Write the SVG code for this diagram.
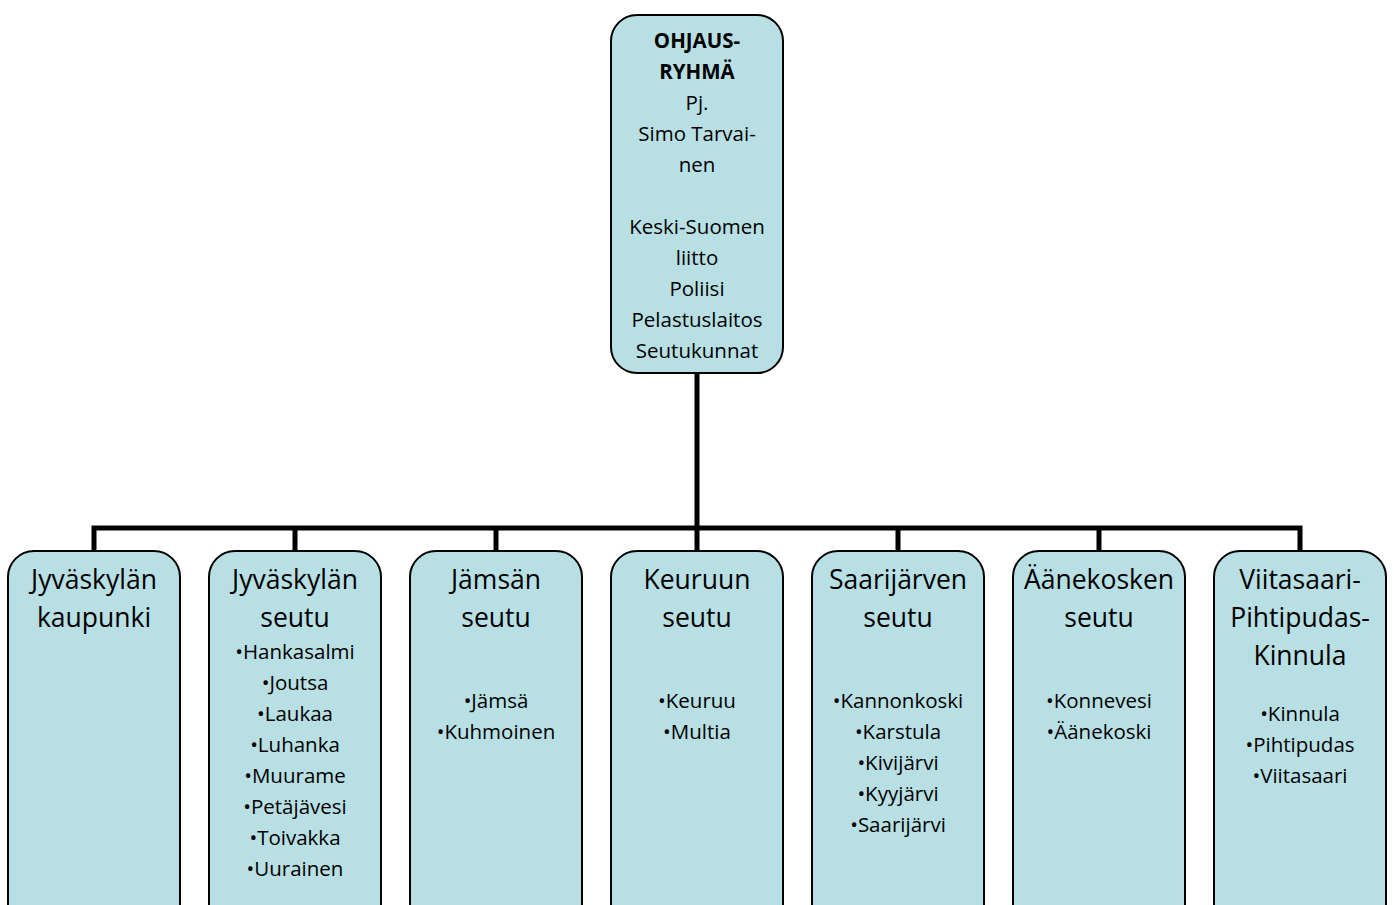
<svg xmlns="http://www.w3.org/2000/svg" width="1394" height="905" viewBox="0 0 1394 905">
<style>
.box{fill:#b8dfe3;stroke:#000;stroke-width:2}
.t{font-family:"Open Sans",Lato,"Liberation Sans",sans-serif;fill:#000;text-anchor:middle}
.s{font-size:20.5px}
.b{font-weight:bold}
.h{font-size:26.5px}
.c{fill:none;stroke:#000;stroke-width:5}
</style>
<rect width="1394" height="905" fill="#fff"/>
<g id="connectors">
<path class="c" d="M697 373 V528 M94 551 V528 H1300 V551 M295 528 V551 M496 528 V551 M697 528 V551 M898 528 V551 M1099 528 V551"/>
</g>
<g id="ohjausryhma">
<rect class="box" x="611" y="15" width="172" height="358" rx="26"/>
<text class="t s" x="697"><tspan class="b" x="697" y="48">OHJAUS-</tspan><tspan class="b" x="697" y="79">RYHMÄ</tspan><tspan x="697" y="110">Pj.</tspan><tspan x="697" y="141">Simo Tarvai-</tspan><tspan x="697" y="172">nen</tspan><tspan x="697" y="234">Keski-Suomen</tspan><tspan x="697" y="265">liitto</tspan><tspan x="697" y="296">Poliisi</tspan><tspan x="697" y="327">Pelastuslaitos</tspan><tspan x="697" y="358">Seutukunnat</tspan></text>
</g>
<g id="jyvaskylan-kaupunki">
<rect class="box" x="8" y="551" width="172" height="380" rx="26"/>
<text class="t h"><tspan x="94" y="589">Jyväskylän</tspan><tspan x="94" y="627">kaupunki</tspan></text>
</g>
<g id="jyvaskylan-seutu">
<rect class="box" x="209" y="551" width="172" height="380" rx="26"/>
<text class="t h"><tspan x="295" y="589">Jyväskylän</tspan><tspan x="295" y="627">seutu</tspan></text>
<text class="t s"><tspan x="295" y="659">•Hankasalmi</tspan><tspan x="295" y="690">•Joutsa</tspan><tspan x="295" y="721">•Laukaa</tspan><tspan x="295" y="752">•Luhanka</tspan><tspan x="295" y="783">•Muurame</tspan><tspan x="295" y="814">•Petäjävesi</tspan><tspan x="295" y="845">•Toivakka</tspan><tspan x="295" y="876">•Uurainen</tspan></text>
</g>
<g id="jamsan-seutu">
<rect class="box" x="410" y="551" width="172" height="380" rx="26"/>
<text class="t h"><tspan x="496" y="589">Jämsän</tspan><tspan x="496" y="627">seutu</tspan></text>
<text class="t s"><tspan x="496" y="708">•Jämsä</tspan><tspan x="496" y="739">•Kuhmoinen</tspan></text>
</g>
<g id="keuruun-seutu">
<rect class="box" x="611" y="551" width="172" height="380" rx="26"/>
<text class="t h"><tspan x="697" y="589">Keuruun</tspan><tspan x="697" y="627">seutu</tspan></text>
<text class="t s"><tspan x="697" y="708">•Keuruu</tspan><tspan x="697" y="739">•Multia</tspan></text>
</g>
<g id="saarijarven-seutu">
<rect class="box" x="812" y="551" width="172" height="380" rx="26"/>
<text class="t h"><tspan x="898" y="589">Saarijärven</tspan><tspan x="898" y="627">seutu</tspan></text>
<text class="t s"><tspan x="898" y="708">•Kannonkoski</tspan><tspan x="898" y="739">•Karstula</tspan><tspan x="898" y="770">•Kivijärvi</tspan><tspan x="898" y="801">•Kyyjärvi</tspan><tspan x="898" y="832">•Saarijärvi</tspan></text>
</g>
<g id="aanekosken-seutu">
<rect class="box" x="1013" y="551" width="172" height="380" rx="26"/>
<text class="t h"><tspan x="1099" y="589">Äänekosken</tspan><tspan x="1099" y="627">seutu</tspan></text>
<text class="t s"><tspan x="1099" y="708">•Konnevesi</tspan><tspan x="1099" y="739">•Äänekoski</tspan></text>
</g>
<g id="viitasaari-pihtipudas-kinnula">
<rect class="box" x="1214" y="551" width="172" height="380" rx="26"/>
<text class="t h"><tspan x="1300" y="589">Viitasaari-</tspan><tspan x="1300" y="627">Pihtipudas-</tspan><tspan x="1300" y="665">Kinnula</tspan></text>
<text class="t s"><tspan x="1300" y="721">•Kinnula</tspan><tspan x="1300" y="752">•Pihtipudas</tspan><tspan x="1300" y="783">•Viitasaari</tspan></text>
</g>
</svg>
